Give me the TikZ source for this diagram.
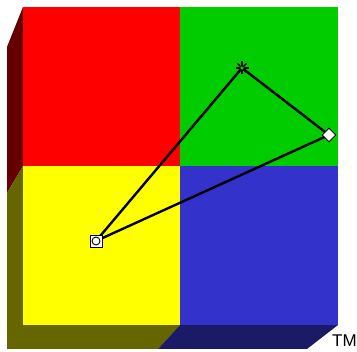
\documentclass[tikz,border=0pt]{standalone}
\usepackage{fontspec}
\setsansfont{Liberation Sans}
\usetikzlibrary{shapes.geometric,calc}
\definecolor{QRed}{HTML}{FF0000}
\definecolor{QGreen}{HTML}{00CC00}
\definecolor{QYellow}{HTML}{FFFF00}
\definecolor{QBlue}{HTML}{3333CC}
\definecolor{SideRed}{HTML}{660000}
\definecolor{SideOlive}{HTML}{666600}
\definecolor{SideNavy}{HTML}{1A1A66}
\tikzset{
  link/.style={line width=2.4pt,black},
  sqmark/.style={draw,fill=white,line width=0.9pt,minimum size=12pt,inner sep=0pt},
  dmmark/.style={diamond,draw,fill=white,line width=0.9pt,minimum size=14pt,inner sep=0pt},
}
\begin{document}
\begin{tikzpicture}[x=1pt,y=-1pt]
\useasboundingbox (0,0) rectangle (357,352);
% side and bottom faces
\fill[SideRed] (23,7) -- (23,166) -- (7,193) -- (7,47) -- cycle;
\fill[SideOlive] (23,166) -- (23,325) -- (180,325) -- (158,349) -- (7,349) -- (7,193) -- cycle;
\fill[SideNavy] (180,325) -- (338,325) -- (307,349) -- (158,349) -- cycle;
% front face
\fill[QRed] (23,7) rectangle (180,166);
\fill[QGreen] (180,7) rectangle (338,166);
\fill[QYellow] (23,166) rectangle (180,325);
\fill[QBlue] (180,166) rectangle (338,325);
% points
\coordinate (low) at (96,241);
\coordinate (top) at (242,68);
\coordinate (right) at (329,135);
\draw[link] (low) -- (top) -- (right) -- cycle;
\node[sqmark] (lowmark) at (low) {};
\draw[line width=0.9pt,fill=white] (lowmark.center) circle (4pt);
\node[dmmark] (rightmark) at (right) {};
\node[inner sep=0pt,minimum size=13pt] (topmark) at (top) {};
\foreach \a in {0,45,...,135}
  \draw[line width=1.3pt] ($(top)+(\a:6.5pt)$) -- ($(top)+(\a+180:6.5pt)$);
\fill[QGreen] (top) circle (1.8pt);
\node[font=\sffamily\fontsize{17}{17}\selectfont,anchor=base west,inner sep=0pt] (tm) at (332,347) {TM};
\end{tikzpicture}
\end{document}
